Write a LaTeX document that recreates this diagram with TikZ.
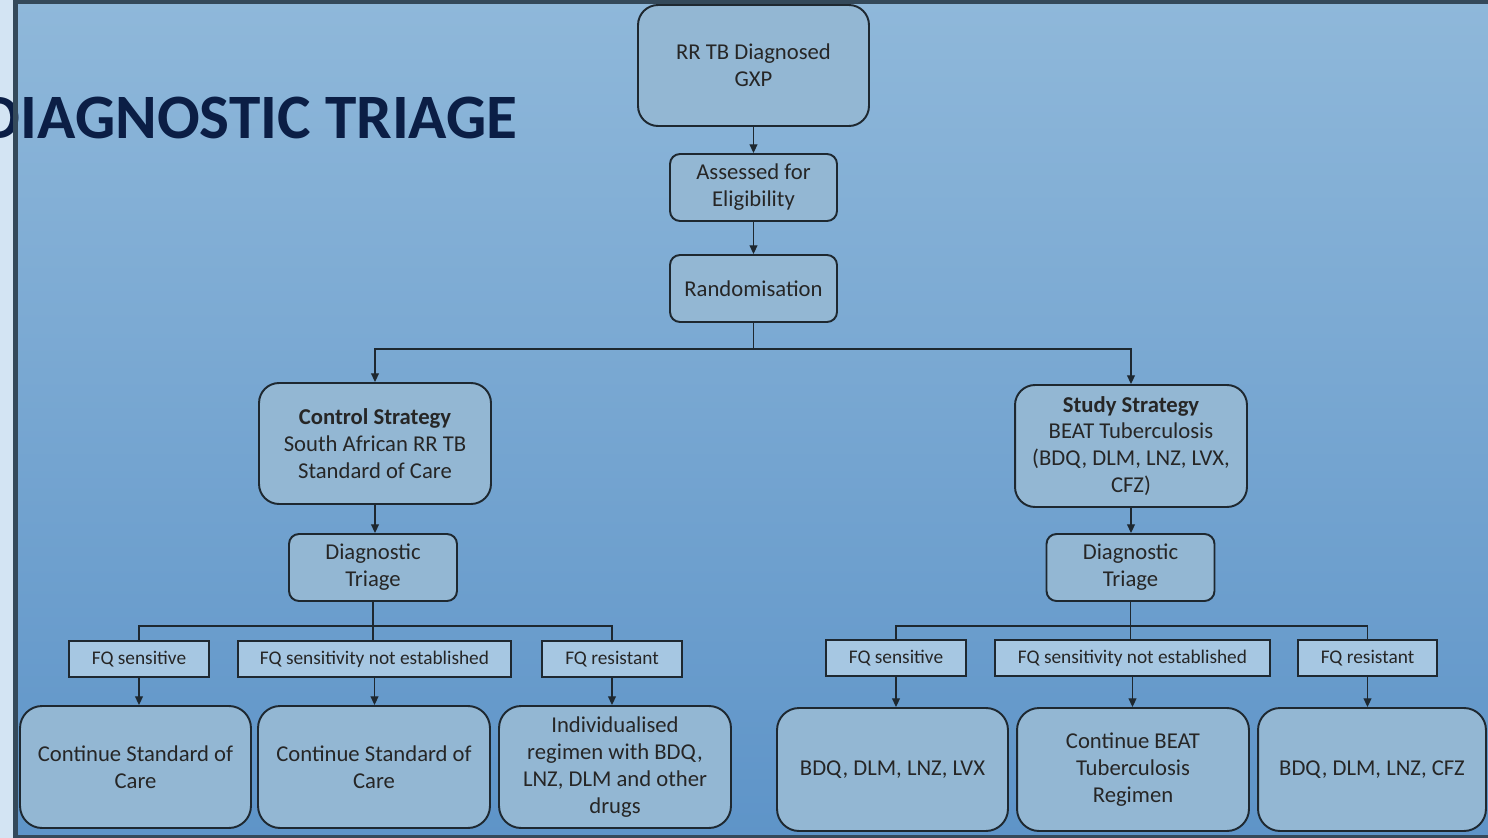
\documentclass[tikz,border=0pt]{standalone}
\usepackage{fontspec}
\setmainfont{Carlito}
\usetikzlibrary{arrows.meta}

\definecolor{bgtop}{HTML}{8FB8DA}
\definecolor{bgbot}{HTML}{5E94C8}
\definecolor{stripcol}{HTML}{D3E4F3}
\definecolor{bordercol}{HTML}{34495A}
\definecolor{boxfill}{HTML}{93B7D3}
\definecolor{fqfill}{HTML}{A6C7E2}
\definecolor{linecol}{HTML}{1E2830}
\definecolor{titlecol}{HTML}{0B1E45}

\begin{document}
\begin{tikzpicture}[x=0.02cm,y=-0.02cm,
    box/.style={draw=linecol,line width=1.1pt,fill=boxfill,rounded corners=0.4cm,
                align=center,text=black!85,font=\fontsize{12.9}{15.3}\selectfont,inner sep=2pt},
    smallbox/.style={box,rounded corners=0.2cm},
    endbox/.style={box,rounded corners=0.44cm,minimum height=2.44cm},
    fqbox/.style={draw=linecol,line width=0.8pt,fill=fqfill,align=center,text=black!85,
                  font=\fontsize{11}{12}\selectfont,inner sep=1pt,minimum height=0.72cm},
    link/.style={draw=linecol,line width=0.8pt},
    arr/.style={link,-{Triangle[length=5pt,width=4.5pt]}}]

\useasboundingbox (0,0) rectangle (1488,838);
\clip (0,0) rectangle (1488,838);

%-------------------------------------------- Background
\fill[stripcol] (0,0) rectangle (14,838);
\shade[top color=bgtop,bottom color=bgbot] (14,0) rectangle (1488,838);

% Title
\node[anchor=base east,font=\fontsize{36}{42}\selectfont\bfseries,text=titlecol,inner sep=0]
    (title) at (518,138) {DIAGNOSTIC TRIAGE};

% Frame
\draw[bordercol,line width=2.4pt] (15.5,838) -- (15.5,1.5) -- (1488,1.5);
\draw[bordercol,line width=1.2pt] (15.5,836.5) -- (1488,836.5);

%-------------------------------------------- Top of the chart
\node[box,minimum width=4.62cm,minimum height=2.42cm] (diag) at (753.5,65.5) {RR TB Diagnosed\\GXP};
\node[smallbox,minimum width=3.34cm,minimum height=1.34cm] (assess) at (753.5,187.5) {Assessed for\\Eligibility};
\node[smallbox,minimum width=3.34cm,minimum height=1.34cm] (rand) at (753.5,288.5) {Randomisation};

\draw[arr] (diag.south) -- (assess.north);
\draw[arr] (assess.south) -- (rand.north);

\coordinate (split) at (753.5,349);
\draw[link] (rand.south) -- (split);

%-------------------------------------------- Strategies
\node[box,minimum width=4.64cm,minimum height=2.42cm] (ctrl) at (375,443.5)
    {\textbf{Control Strategy}\\South African RR TB\\Standard of Care};
\node[box,minimum width=4.64cm,minimum height=2.44cm] (study) at (1131,446)
    {\textbf{Study Strategy}\\BEAT Tuberculosis\\(BDQ, DLM, LNZ, LVX,\\CFZ)};

\draw[arr] (split) -| (ctrl.north);
\draw[arr] (split) -| (study.north);

\node[smallbox,minimum width=3.36cm,minimum height=1.34cm] (ltri) at (373,567.5) {Diagnostic\\Triage};
\node[smallbox,minimum width=3.36cm,minimum height=1.34cm] (rtri) at (1130.5,567.5) {Diagnostic\\Triage};

\draw[arr] (ctrl.south) -- (ctrl.south |- ltri.north);
\draw[arr] (study.south) -- (study.south |- rtri.north);

%-------------------------------------------- FQ results, control side
\node[fqbox,minimum width=2.8cm] (lfq1) at (139,659) {FQ sensitive};
\node[fqbox,minimum width=5.46cm] (lfq2) at (374.5,659) {FQ sensitivity not established};
\node[fqbox,minimum width=2.8cm] (lfq3) at (612,659) {FQ resistant};

\coordinate (lsplit) at (373,626);
\draw[link] (ltri.south) -- (ltri.south |- lfq2.north);
\draw[link] (lfq1.north) |- (lsplit) -| (lfq3.north);

\node[endbox,minimum width=4.62cm] (lb1) at (135.5,767) {Continue Standard of\\Care};
\node[endbox,minimum width=4.64cm] (lb2) at (374,767) {Continue Standard of\\Care};
\node[endbox,minimum width=4.64cm] (lb3) at (615,767)
    {Individualised\\regimen with BDQ,\\LNZ, DLM and other\\drugs};

%-------------------------------------------- FQ results, study side
\node[fqbox,minimum width=2.8cm] (rfq1) at (896,658) {FQ sensitive};
\node[fqbox,minimum width=5.5cm] (rfq2) at (1132.5,658) {FQ sensitivity not established};
\node[fqbox,minimum width=2.78cm] (rfq3) at (1367.5,658) {FQ resistant};

\coordinate (rsplit) at (1130.5,626);
\draw[link] (rtri.south) -- (rtri.south |- rfq2.north);
\draw[link] (rfq1.north) |- (rsplit) -| (rfq3.north);

\node[endbox,minimum width=4.62cm,minimum height=2.46cm] (rb1) at (892.5,769.5) {BDQ, DLM, LNZ, LVX};
\node[endbox,minimum width=4.64cm,minimum height=2.46cm] (rb2) at (1133,769.5)
    {Continue BEAT\\Tuberculosis\\Regimen};
\node[endbox,minimum width=4.56cm,minimum height=2.46cm] (rb3) at (1372,769.5) {BDQ, DLM, LNZ, CFZ};

% arrows into the regimens
\foreach \s in {l,r}
  \foreach \i in {1,2,3}
    \draw[arr] (\s fq\i.south) -- (\s fq\i.south |- \s b\i.north);

\end{tikzpicture}
\end{document}
